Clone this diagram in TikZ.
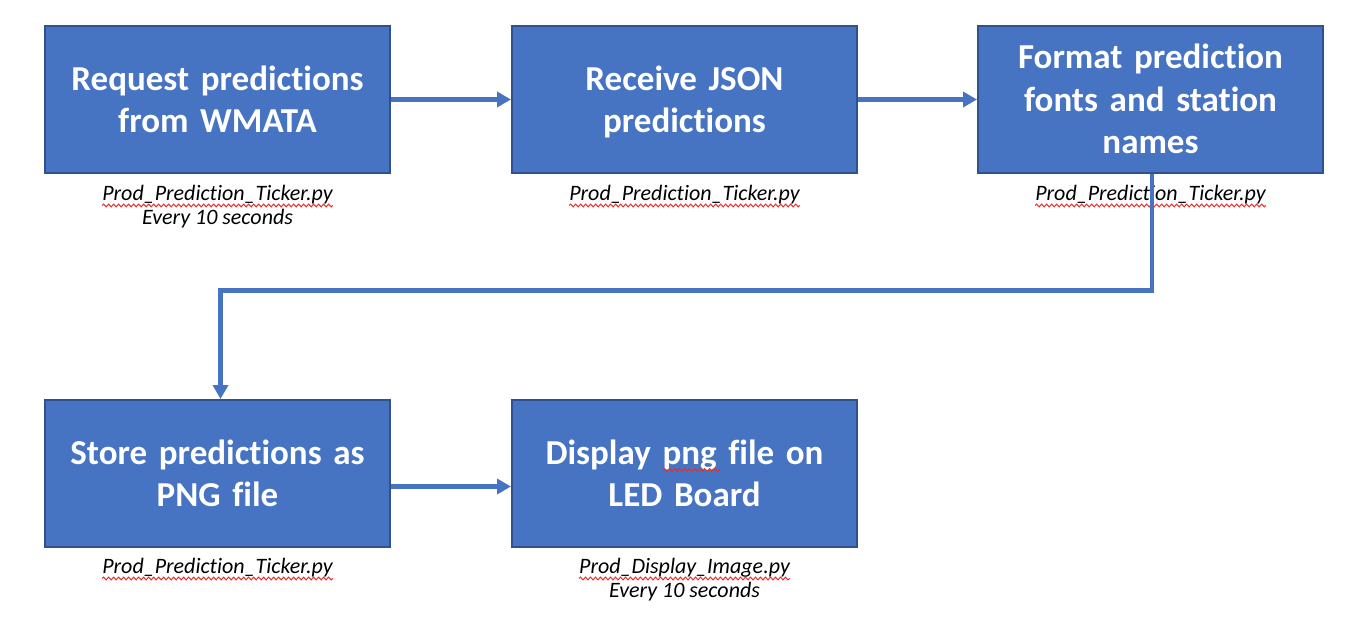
\documentclass[tikz,border=0pt]{standalone}
\usepackage{fontspec}
\setmainfont{Carlito}[Ligatures=NoCommon]
\usetikzlibrary{arrows.meta,decorations.pathmorphing}
\definecolor{boxfill}{HTML}{4673C2}
\definecolor{boxline}{HTML}{2F528F}
\definecolor{arrowc}{HTML}{4673C2}
\definecolor{squigc}{HTML}{E8302A}
\begin{document}
\begin{tikzpicture}[x=1pt,y=-1pt,
  stepbox/.style={draw=boxline, line width=2pt, fill=boxfill,
    minimum width=345pt, minimum height=147pt, inner sep=0pt,
    text width=340pt, align=center, text=white,
    font=\fontsize{35}{42.5}\selectfont\bfseries,
    execute at begin node={\rule{0pt}{33pt}},
    execute at end node={\rule[-9.5pt]{0pt}{9.5pt}}},
  caption/.style={font=\fontsize{22}{24}\selectfont\itshape,
    inner sep=0pt, anchor=base, text=black},
  flow/.style={draw=arrowc, line width=4.5pt,
    -{Triangle[length=14pt,width=15pt]}},
  squig/.style={draw=squigc, line width=1pt, decorate,
    decoration={snake, amplitude=1.4pt, segment length=5pt}}]
\useasboundingbox (0,0) rectangle (1348,618);

% boxes
\node[stepbox] (n1) at (217.5,99.5) {Request predictions\\from WMATA};
\node[stepbox] (n2) at (684.5,99.5) {Receive JSON\\predictions};
\node[stepbox] (n3) at (1150.5,99.5) {Format prediction\\fonts and station\\names};
\node[stepbox] (n4) at (217.5,473.5) {Store predictions as\\PNG file};
\node[stepbox] (n5) at (684.5,473.5) {Display png file on\\LED Board};

% captions
\node[caption] (c1a) at (217.5,200) {Prod\_Prediction\_Ticker.py};
\node[caption] (c1b) at (217.5,224) {Every 10 seconds};
\node[caption] (c2a) at (684.5,200) {Prod\_Prediction\_Ticker.py};
\node[caption] (c3a) at (1150.5,200) {Prod\_Prediction\_Ticker.py};
\node[caption] (c4a) at (217.5,573) {Prod\_Prediction\_Ticker.py};
\node[caption] (c5a) at (684.5,573) {Prod\_Display\_Image.py};
\node[caption] (c5b) at (684.5,597) {Every 10 seconds};

% spell-check squiggles
\foreach \c in {c1a,c2a,c3a,c4a,c5a}{
  \draw[squig] ([yshift=-5.5pt]\c.base west) -- ([yshift=-5.5pt]\c.base east);
}
\coordinate (p1) at (663,470);
\coordinate (p2) at (720,470);
\draw[squig] (p1) -- (p2);

% connectors
\draw[flow] (n1.east) -- (n2.west);
\draw[flow] (n2.east) -- (n3.west);
\coordinate (k1) at (1152,290.5);
\coordinate (k2) at (220.5,290.5);
\draw[flow, line join=miter] (n3.south -| k1) -- (k1) -- (k2) -- (k2 |- n4.north);
\draw[flow] ([yshift=-13pt]n4.east) -- ([yshift=-13pt]n5.west);
\end{tikzpicture}
\end{document}
